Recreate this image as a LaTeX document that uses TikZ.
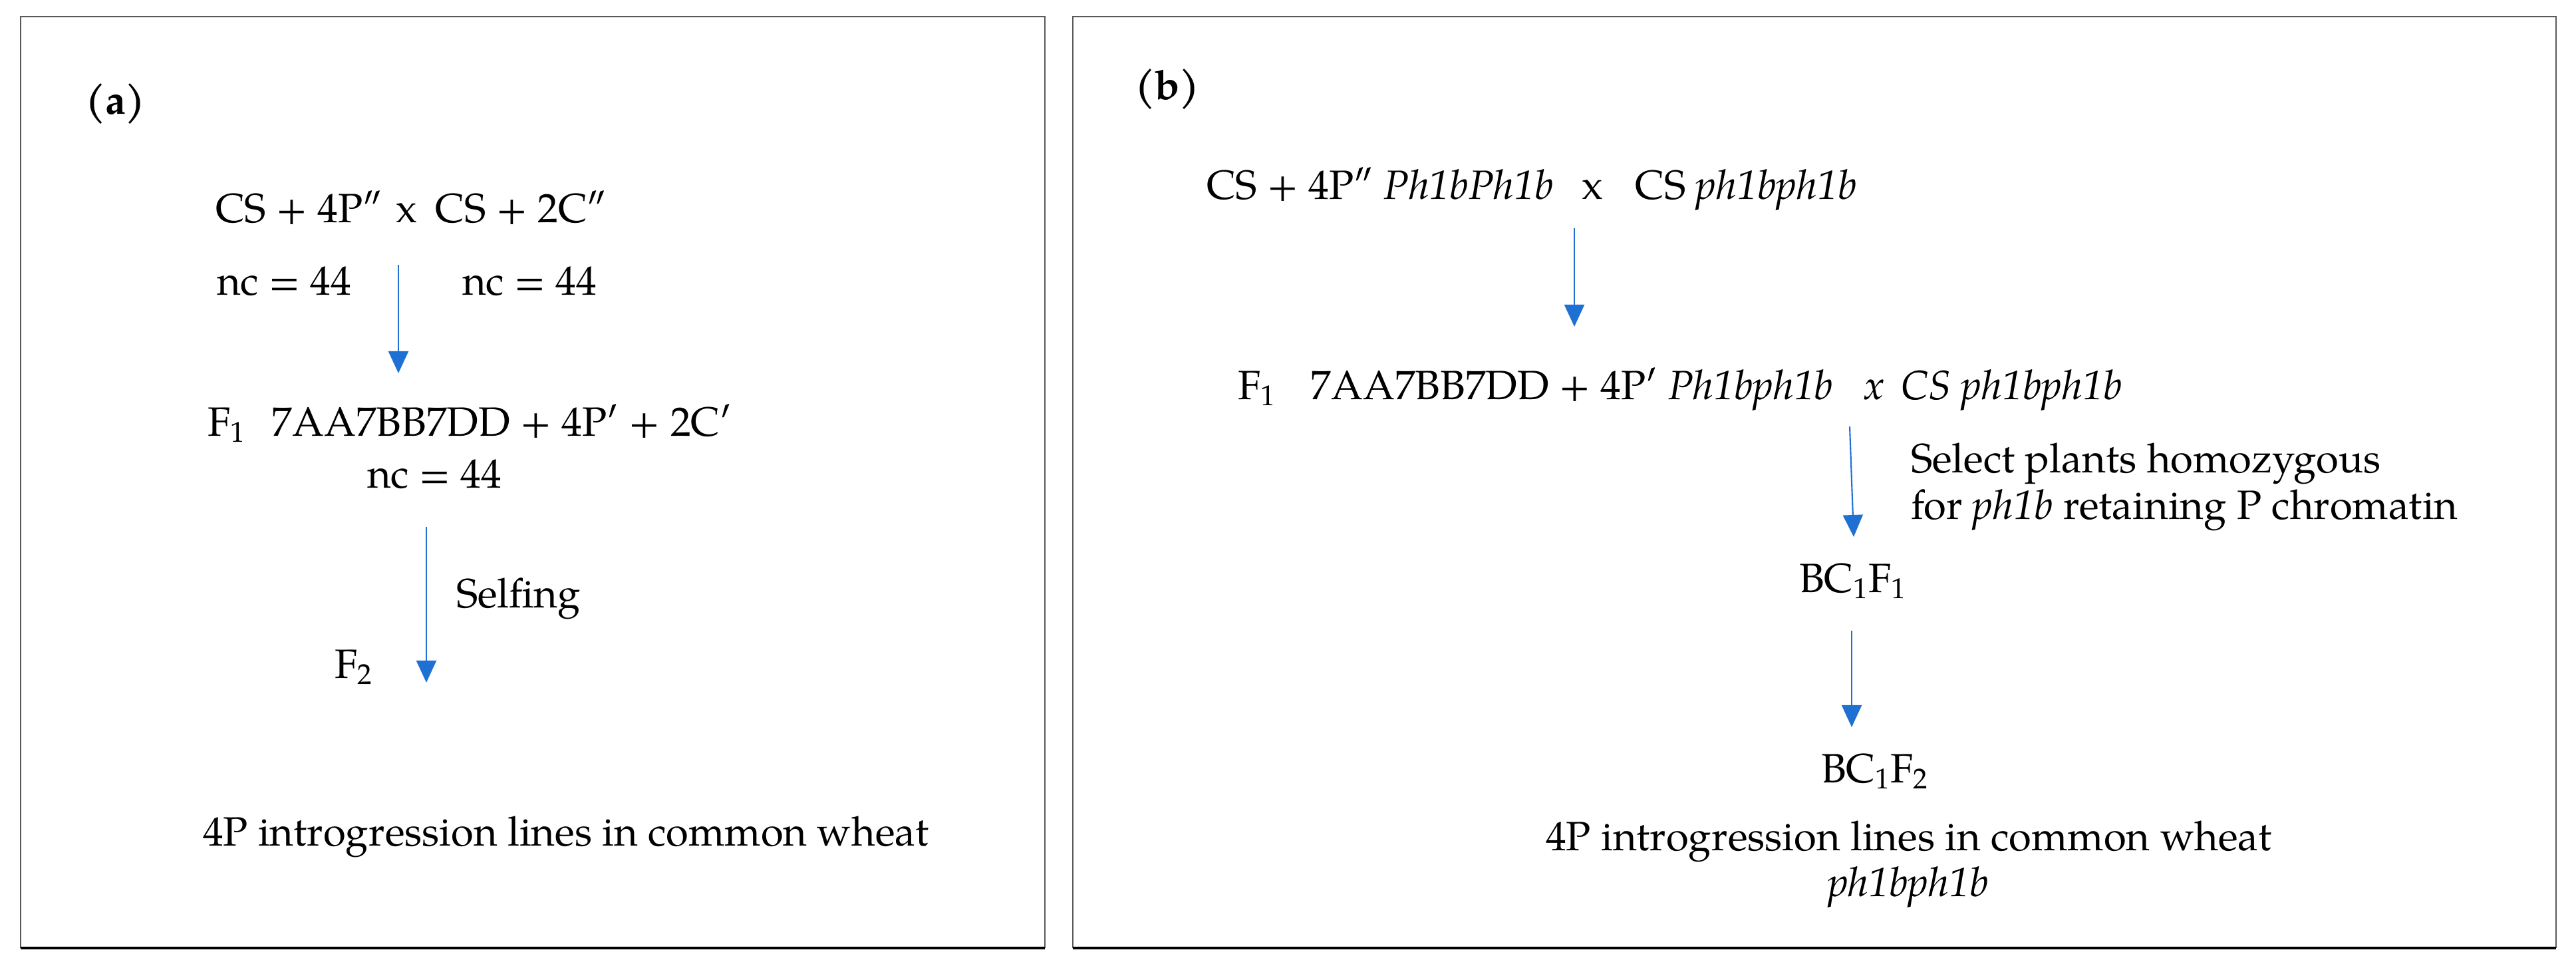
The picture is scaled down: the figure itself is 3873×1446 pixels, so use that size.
\documentclass[tikz,border=0pt]{standalone}
\usepackage{fontspec}
\setmainfont{texgyrepagella}[Extension=.otf, UprightFont=*-regular, ItalicFont=*-italic, BoldFont=*-bold, BoldItalicFont=*-bolditalic]
\usetikzlibrary{arrows.meta}
\definecolor{arrowblue}{RGB}{30,112,210}
\definecolor{framegray}{RGB}{90,90,90}
\tikzset{
  txt/.style={anchor=base west, inner sep=0pt, outer sep=0pt, font=\fontsize{17.5}{21}\selectfont},
  arr/.style={draw=arrowblue, line width=0.6pt, -{Triangle[width=0.30cm,length=0.33cm]}, fill=arrowblue},
  frame/.style={draw=framegray, line width=0.6pt},
  framebot/.style={draw=black, line width=0.9pt}
}
\begin{document}
\begin{tikzpicture}[x=0.01cm, y=-0.01cm]
\useasboundingbox (0,0) rectangle (3873,1446);
% frames
\draw[frame] (31,1425) -- (31,25) -- (1571,25) -- (1571,1425);
\draw[framebot] (31,1425) -- (1571,1425);
\draw[frame] (1613,1425) -- (1613,25) -- (3843,25) -- (3843,1425);
\draw[framebot] (1613,1425) -- (3843,1425);

% ---------- panel (a)
\node[txt, font=\fontsize{17.5}{21}\selectfont\bfseries] (la) at (128,172) {(a)};
\node[txt] (across) at (324,335) {CS + 4P″\hspace{2mm}x\hspace{2.8mm}CS + 2C″};
\node[txt] (anc1) at (326,443) {nc = 44};
\node[txt] (anc2) at (695,443) {nc = 44};
\node[txt] (af1) at (312,655) {F\textsubscript{1}\hspace{3.9mm}7AA7BB7DD + 4P′ + 2C′};
\node[txt] (anc3) at (552,733) {nc = 44};
\node[txt] (aself) at (686,913) {Selfing};
\node[txt] (af2) at (503,1019) {F\textsubscript{2}};
\node[txt] (aline) at (305,1271) {4P introgression lines in common wheat};
\coordinate (a1s) at (599,398);
\coordinate (a1e) at (599,561);
\coordinate (a2s) at (641,792);
\coordinate (a2e) at (641,1026);
\draw[arr] (a1s) -- (a1e);
\draw[arr] (a2s) -- (a2e);

% ---------- panel (b)
\node[txt, font=\fontsize{17.5}{21}\selectfont\bfseries] (lb) at (1706,150) {(b)};
\node[txt] (bcross) at (1814,300) {CS + 4P″ \textit{Ph1bPh1b}\hspace{4.3mm}x\hspace{4.8mm}CS \textit{ph1bph1b}};
\node[txt] (bf1) at (1861,600) {F\textsubscript{1}\hspace{5.2mm}7AA7BB7DD + 4P′ \textit{Ph1bph1b}\hspace{4.6mm}\textit{x}\hspace{2.5mm}\textit{CS ph1bph1b}};
\node[txt] (bsel1) at (2873,710) {Select plants homozygous};
\node[txt] (bsel2) at (2873,780) {for \textit{ph1b} retaining P chromatin};
\node[txt] (bbc1) at (2705,890) {BC\textsubscript{1}F\textsubscript{1}};
\node[txt] (bbc2) at (2738,1176) {BC\textsubscript{1}F\textsubscript{2}};
\node[txt] (bline) at (2324,1278) {4P introgression lines in common wheat};
\node[txt] (bgeno) at (2748,1347) {\textit{ph1bph1b}};
\coordinate (b1s) at (2367,343);
\coordinate (b1e) at (2367,491);
\coordinate (b2s) at (2781,641);
\coordinate (b2e) at (2787,807);
\coordinate (b3s) at (2784,948);
\coordinate (b3e) at (2784,1093);
\draw[arr] (b1s) -- (b1e);
\draw[arr] (b2s) -- (b2e);
\draw[arr] (b3s) -- (b3e);
\end{tikzpicture}
\end{document}
